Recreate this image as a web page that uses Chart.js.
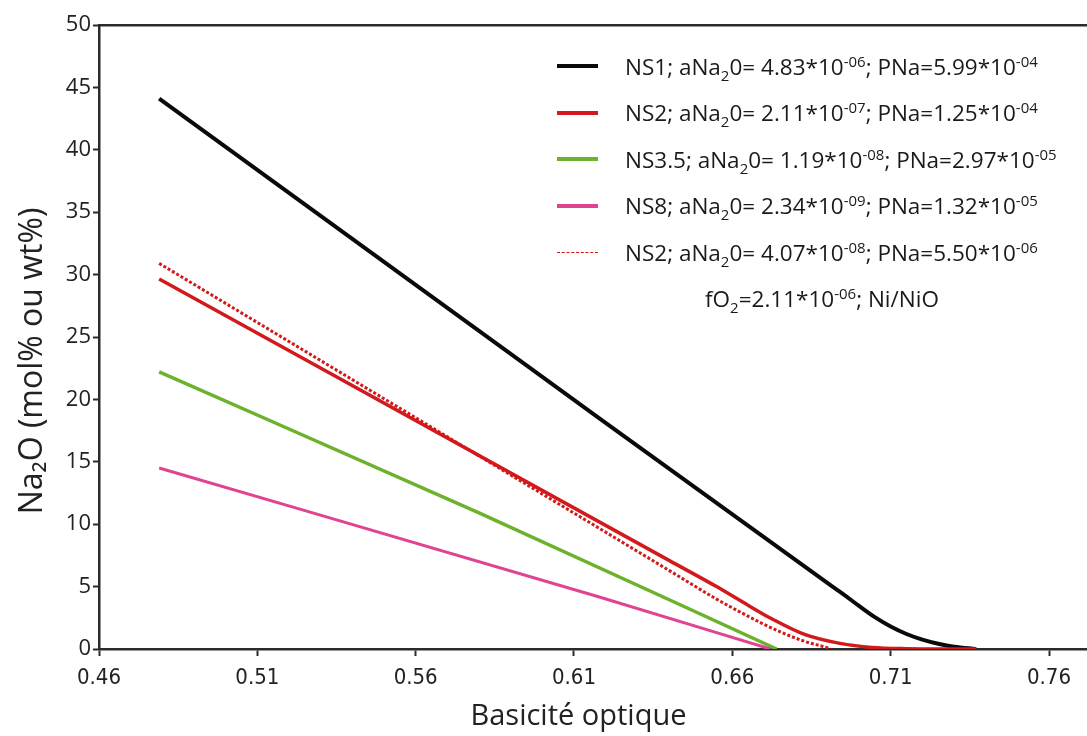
<!DOCTYPE html>
<html>
<head>
<meta charset="utf-8">
<script src="https://cdn.jsdelivr.net/npm/chart.js@4/dist/chart.umd.min.js"></script>
<style>
  html, body { margin: 0; padding: 0; background: #fff; }
  #wrap { position: relative; width: 1087px; height: 736px; }
  #legend { position: absolute; left: 557px; top: 43px; font-family: "Open Sans", sans-serif; font-size: 22.5px; color: #1a1a1a; }
  #legend .row { display: flex; align-items: center; height: 46.5px; white-space: nowrap; }
  #legend .swatch { width: 41px; height: 0; border-top: 4px solid; margin-right: 27px; }
  #legend .swatch.dash { border-top-width: 1.5px; border-top-style: dashed; }
  #legend sub, #legend sup { font-size: 15px; line-height: 0; }
  #legend .note { padding-left: 148px; }
</style>
</head>
<body>
<div id="wrap">
  <canvas id="chart" width="1087" height="736"></canvas>
  <div id="legend"></div>
</div>
<script>
// ── data ────────────────────────────────────────────────────────────────
const xTicks = [0.46, 0.51, 0.56, 0.61, 0.66, 0.71, 0.76];
const yTicks = [0, 5, 10, 15, 20, 25, 30, 35, 40, 45, 50];

const ns1X = [0.479, 0.600, 0.690, 0.695, 0.700, 0.705, 0.710, 0.715, 0.720, 0.725, 0.730, 0.737];
const ns1Y = [44.1, 21.8, 5.3, 4.4, 3.45, 2.55, 1.8, 1.2, 0.75, 0.42, 0.18, 0];

const ns2X = [0.479, 0.640, 0.655, 0.663, 0.6726, 0.683, 0.694, 0.704, 0.715, 0.737];
const ns2Y = [29.65, 7.1, 5.0, 3.8, 2.4, 1.15, 0.45, 0.12, 0.03, 0];

const ns35X = [0.479, 0.580, 0.674];
const ns35Y = [22.2, 10.9, 0];

const ns8X = [0.479, 0.618, 0.672];
const ns8Y = [14.5, 4.17, 0];

const ns2bX = [0.479, 0.640, 0.655, 0.6622, 0.669, 0.6758, 0.683, 0.6897, 0.691];
const ns2bY = [30.9, 6.3, 4.0, 3.0, 2.1, 1.3, 0.6, 0.12, 0];

const labels = [
  "NS1; aNa<sub>2</sub>0= 4.83*10<sup>-06</sup>; PNa=5.99*10<sup>-04</sup>",
  "NS2; aNa<sub>2</sub>0= 2.11*10<sup>-07</sup>; PNa=1.25*10<sup>-04</sup>",
  "NS3.5; aNa<sub>2</sub>0= 1.19*10<sup>-08</sup>; PNa=2.97*10<sup>-05</sup>",
  "NS8; aNa<sub>2</sub>0= 2.34*10<sup>-09</sup>; PNa=1.32*10<sup>-05</sup>",
  "NS2; aNa<sub>2</sub>0= 4.07*10<sup>-08</sup>; PNa=5.50*10<sup>-06</sup>",
];
const note = "fO<sub>2</sub>=2.11*10<sup>-06</sup>; Ni/NiO";

// ── series ──────────────────────────────────────────────────────────────
const pts = (xs, ys) => xs.map((x, i) => ({ x, y: ys[i] }));
const series = [
  { data: pts(ns1X, ns1Y),   color: "#0a0a0a", width: 4 },
  { data: pts(ns2X, ns2Y),   color: "#d2191b", width: 3.5 },
  { data: pts(ns35X, ns35Y), color: "#6cb22e", width: 3.5 },
  { data: pts(ns8X, ns8Y),   color: "#e0438f", width: 3 },
  { data: pts(ns2bX, ns2bY), color: "#d2191b", width: 3, dash: [3, 2] },
];

const axisColor = "#2b2b2b";
const tickFont = { family: '"Open Sans", sans-serif', size: 22 };
const xTickFont = { family: '"Liberation Sans Narrow", "DejaVu Sans Condensed", sans-serif', size: 22 };

new Chart(document.getElementById("chart").getContext("2d"), {
  type: "line",
  data: {
    datasets: series.map((s, i) => ({
      label: "s" + i,
      data: s.data,
      borderColor: s.color,
      borderWidth: s.width,
      borderDash: s.dash || [],
      pointRadius: 0,
      fill: false,
      cubicInterpolationMode: "monotone",
      order: 5 - i,
    })),
  },
  options: {
    responsive: false,
    animation: false,
    devicePixelRatio: 1,
    layout: { padding: { top: 25, right: 0, bottom: 0, left: 0 } },
    plugins: { legend: { display: false }, tooltip: { enabled: false } },
    scales: {
      x: {
        type: "linear", position: "bottom", min: 0.46, max: 0.772,
        afterBuildTicks: s => { s.ticks = xTicks.map(v => ({ value: v })); },
        afterFit: s => { s.height = 87; },
        ticks: { callback: v => v.toFixed(2), font: xTickFont, color: "#222", padding: 9, autoSkip: false, maxRotation: 0 },
        grid: { drawOnChartArea: false, drawTicks: true, tickLength: 7, tickColor: axisColor, tickWidth: 2 },
        border: { color: axisColor, width: 2.5 },
        // trailing space nudges the centred title left, as in the original
        title: { display: true, text: "Basicité optique\u2003", font: { family: '"Open Sans", sans-serif', size: 29 }, color: "#222", padding: { top: 0, bottom: 2 } },
      },
      xTop: {
        type: "linear", position: "top", min: 0.46, max: 0.772,
        afterFit: s => { s.height = 0; },
        ticks: { display: false },
        grid: { drawOnChartArea: false, drawTicks: false },
        border: { color: axisColor, width: 2.5 },
      },
      y: {
        type: "linear", position: "left", min: 0, max: 50,
        afterBuildTicks: s => { s.ticks = yTicks.map(v => ({ value: v })); },
        afterFit: s => { s.width = 99; },
        ticks: { font: tickFont, color: "#222", padding: 2 },
        grid: { drawOnChartArea: false, drawTicks: true, tickLength: 6, tickColor: axisColor, tickWidth: 2 },
        border: { color: axisColor, width: 2.5 },
        // trailing spaces push the centred title a little lower, as in the original
        title: { display: true, text: "Na₂O (mol% ou wt%)\u2003\u2002", font: { family: '"Open Sans", sans-serif', size: 32 }, color: "#222", padding: { top: 14, bottom: 0 } },
      },
    },
  },
});

// ── legend (html, for sub/superscripts) ─────────────────────────────────
const legend = document.getElementById("legend");
labels.forEach((text, i) => {
  const s = series[i];
  const row = document.createElement("div");
  row.className = "row";
  row.innerHTML = `<span class="swatch${s.dash ? " dash" : ""}" style="border-top-color:${s.color}"></span><span>${text}</span>`;
  legend.appendChild(row);
});
const noteRow = document.createElement("div");
noteRow.className = "row note";
noteRow.innerHTML = `<span>${note}</span>`;
legend.appendChild(noteRow);
</script>
</body>
</html>
